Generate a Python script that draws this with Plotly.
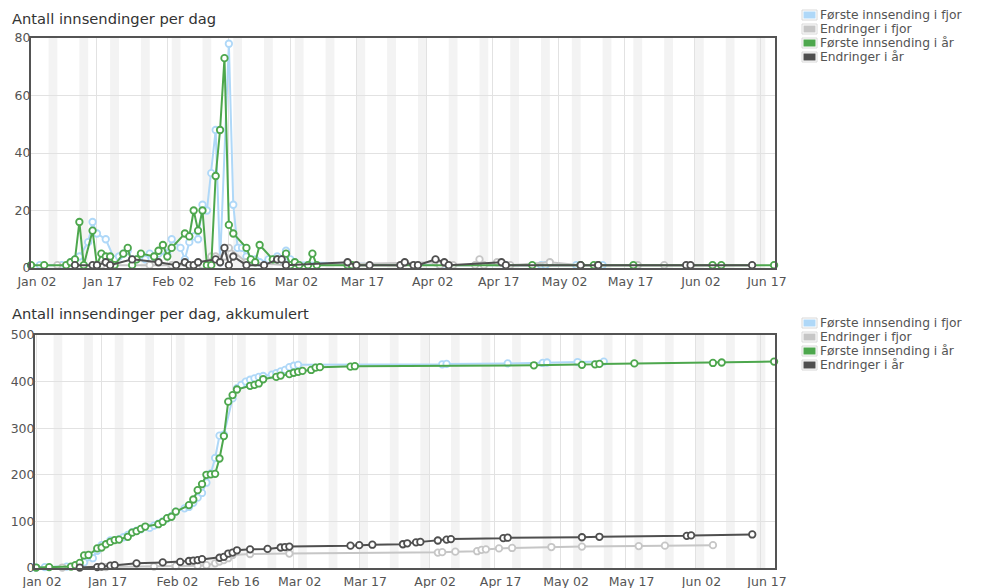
import plotly.graph_objects as go
from datetime import date, timedelta

YEAR = "2018"

# ---- Første innsending i fjor (light blue) ----
blue_dates = ["01-02", "01-04", "01-09", "01-11", "01-12", "01-13", "01-15", "01-16", "01-17", "01-19",
              "01-21", "01-22", "01-23", "01-24", "01-25", "01-26", "01-28", "01-29", "01-30", "01-31",
              "02-01", "02-02", "02-03", "02-05", "02-06", "02-07", "02-08", "02-09", "02-10", "02-11",
              "02-12", "02-13", "02-14", "02-16", "02-17", "02-18", "02-19", "02-20", "02-21", "02-22",
              "02-23", "02-25", "02-26", "02-27", "02-28", "03-01", "03-02", "03-03", "04-05", "04-06",
              "04-20", "04-28", "04-29", "05-06", "05-12"]
blue_daily = [1, 1, 1, 2, 3, 4, 9, 16, 12, 10,
              3, 4, 5, 6, 3, 3, 3, 5, 4, 5,
              6, 5, 10, 7, 3, 9, 11, 10, 22, 20,
              33, 48, 2, 78, 22, 7, 7, 4, 3, 3,
              2, 3, 3, 4, 3, 6, 3, 2, 1, 1,
              1, 1, 1, 1, 1]
blue_cum = [1, 2, 3, 5, 8, 12, 21, 37, 49, 59,
            62, 66, 71, 77, 80, 83, 86, 91, 95, 100,
            106, 111, 121, 128, 131, 140, 151, 161, 183, 203,
            236, 284, 286, 364, 386, 393, 400, 404, 407, 410,
            412, 415, 418, 422, 425, 431, 434, 436, 437, 438,
            439, 440, 441, 442, 443]

# ---- Endringer i fjor (light gray) ----
gray_dates = ["01-08", "01-18", "01-29", "02-03", "02-08", "02-10", "02-12", "02-13", "02-14", "02-15",
              "02-16", "02-20", "03-01", "04-04", "04-05", "04-08", "04-13", "04-14", "04-15", "04-18",
              "04-21", "04-30", "05-07", "05-20", "05-26", "06-06"]
gray_daily = [1, 1, 1, 1, 1, 1, 4, 4, 3, 4,
              7, 2, 1, 2, 1, 1, 1, 3, 1, 2,
              1, 2, 1, 1, 1, 1]
gray_cum = [1, 2, 3, 4, 5, 6, 10, 14, 17, 21,
            28, 30, 31, 33, 34, 35, 36, 39, 40, 42,
            43, 45, 46, 47, 48, 49]

# ---- Første innsending i år (green) ----
green_dates = ["01-02", "01-05", "01-10", "01-11", "01-12", "01-13", "01-14", "01-16", "01-17", "01-18",
               "01-19", "01-20", "01-21", "01-23", "01-24", "01-25", "01-26", "01-27", "01-30", "01-31",
               "02-01", "02-02", "02-03", "02-06", "02-07", "02-08", "02-09", "02-10", "02-11", "02-12",
               "02-13", "02-14", "02-15", "02-16", "02-17", "02-20", "02-21", "02-22", "02-23", "02-26",
               "02-27", "03-01", "03-02", "03-03", "03-04", "03-06", "03-07", "03-08", "03-15", "03-16",
               "04-26", "05-07", "05-10", "05-11", "05-19", "06-06", "06-08", "06-20"]
green_daily = [1, 1, 1, 2, 3, 16, 1, 13, 1, 5,
               4, 4, 1, 5, 7, 1, 3, 5, 4, 6,
               8, 4, 7, 12, 11, 20, 13, 20, 1, 1,
               32, 48, 73, 15, 12, 7, 3, 2, 8, 3,
               3, 5, 1, 2, 1, 1, 5, 1, 1, 1,
               1, 1, 1, 1, 1, 1, 1, 1]
green_cum = [1, 2, 3, 6, 11, 27, 28, 42, 44, 51,
             56, 60, 61, 67, 76, 79, 84, 89, 94, 99,
             107, 110, 121, 135, 147, 167, 180, 200, 201, 202,
             235, 283, 357, 371, 383, 391, 393, 396, 405, 410,
             413, 416, 419, 421, 423, 425, 430, 431, 432, 433,
             435, 436, 437, 438, 439, 440, 441, 443]

# ---- Endringer i år (dark gray) ----
dark_dates = ["01-12", "01-16", "01-17", "01-19", "01-20", "01-25", "01-31", "02-04", "02-06", "02-07",
              "02-08", "02-09", "02-13", "02-14", "02-15", "02-16", "02-17", "02-20", "02-24", "02-27",
              "02-28", "03-01", "03-15", "03-17", "03-20", "03-27", "03-28", "03-30", "03-31", "04-04",
              "04-06", "04-07", "04-19", "04-20", "05-07", "05-11", "05-31", "06-01", "06-15"]
dark_daily = [1, 1, 1, 2, 1, 3, 2, 1, 2, 1,
              1, 2, 3, 2, 7, 1, 4, 1, 1, 3,
              3, 1, 2, 1, 1, 1, 2, 1, 1, 3,
              2, 1, 2, 1, 1, 1, 1, 1, 1]
dark_cum = [1, 2, 3, 5, 6, 10, 12, 13, 15, 16,
            17, 19, 22, 24, 31, 33, 38, 40, 41, 44,
            45, 46, 48, 49, 50, 51, 53, 55, 56, 59,
            61, 62, 64, 65, 66, 67, 69, 70, 72]

tick_dates = ["01-02", "01-17", "02-02", "02-16", "03-02", "03-17", "04-02", "04-17", "05-02", "05-17",
              "06-02", "06-17"]
tick_labels = ["Jan 02", "Jan 17", "Feb 02", "Feb 16", "Mar 02", "Mar 17", "Apr 02", "Apr 17", "May 02",
               "May 17", "Jun 02", "Jun 17"]
y_ticks_top = [0, 20, 40, 60, 80]
y_ticks_bottom = [0, 100, 200, 300, 400, 500]

series_names = ["Første innsending i fjor", "Endringer i fjor", "Første innsending i år", "Endringer i år"]
series_colors = ["#afd8f8", "#c6c6c6", "#4da74d", "#4f4f4f"]

titles = ["Antall innsendinger per dag", "Antall innsendinger per dag, akkumulert"]


def full(ds):
    return [f"{YEAR}-{d}" for d in ds]


W, H = 981, 588


def px(x):
    return x / W


def py(y):
    return 1 - y / H


FONT = "DejaVu Sans"
TXT = "#545454"

fig = go.Figure()

data = [
    (blue_dates, blue_daily, blue_cum),
    (gray_dates, gray_daily, gray_cum),
    (green_dates, green_daily, green_cum),
    (dark_dates, dark_daily, dark_cum),
]
for (ds, dv, cv), name, col in zip(data, series_names, series_colors):
    for xa, ya, vals in (("x", "y", dv), ("x2", "y2", cv)):
        fig.add_trace(go.Scatter(
            x=full(ds), y=vals, mode="lines+markers", name=name,
            xaxis=xa, yaxis=ya, showlegend=False, cliponaxis=False,
            line=dict(color=col, width=2),
            marker=dict(size=6.5, color="white", line=dict(color=col, width=1.8)),
        ))

common_x = dict(
    type="date", tickvals=full(tick_dates), ticktext=tick_labels,
    showgrid=True, gridcolor="#e2e2e2", gridwidth=1,
    showline=True, mirror=True, linecolor="#545454", linewidth=2,
    zeroline=False, ticks="", ticklabelshift=6, automargin=False,
    tickfont=dict(family=FONT, size=12.5, color=TXT),
)
common_y = dict(
    showgrid=True, gridcolor="#e2e2e2", gridwidth=1,
    showline=True, mirror=True, linecolor="#545454", linewidth=2,
    zeroline=False, ticks="", automargin=False, ticklabelstandoff=-4,
    tickfont=dict(family=FONT, size=12.5, color=TXT),
)

fig.update_layout(
    template="none",
    width=W, height=H, autosize=False,
    margin=dict(l=0, r=0, t=0, b=0, pad=0),
    paper_bgcolor="white", plot_bgcolor="white",
    showlegend=False,
    xaxis=dict(domain=[px(31), px(775)], range=["2018-01-02", "2018-06-20 05:00"], anchor="y",
               ticklabelstandoff=1, **common_x),
    yaxis=dict(domain=[py(268), py(38)], range=[0, 80], tickvals=y_ticks_top, anchor="x", **common_y),
    xaxis2=dict(domain=[px(35), px(775)], range=["2018-01-01 18:00", "2018-06-20 05:00"], anchor="y2",
                ticklabelstandoff=1, **common_x),
    yaxis2=dict(domain=[py(568), py(335)], range=[0, 500], tickvals=y_ticks_bottom, anchor="x2", **common_y),
)

shapes = []
# weekend bands
d = date(2018, 1, 6)
while d <= date(2018, 6, 20):
    for xr, yr in (("x", "y domain"), ("x2", "y2 domain")):
        shapes.append(dict(type="rect", xref=xr, yref=yr, x0=d.isoformat(),
                           x1=(d + timedelta(days=2)).isoformat(), y0=0, y1=1,
                           fillcolor="#f3f3f3", line=dict(width=0), layer="below"))
    d += timedelta(days=7)

annotations = []
# titles
for t, ty in zip(titles, (19, 313)):
    annotations.append(dict(text=t, xref="paper", yref="paper", x=px(11), y=py(ty),
                            xanchor="left", yanchor="middle", showarrow=False, borderpad=0,
                            font=dict(family=FONT, size=14.7, color="#333333")))

# legends (flot-style colour boxes)
for top0 in (15, 323):
    for i, (name, col) in enumerate(zip(series_names, series_colors)):
        yc = top0 + i * 14
        shapes.append(dict(type="rect", xref="paper", yref="paper",
                           x0=px(802), x1=px(817), y0=py(yc + 5), y1=py(yc - 5),
                           fillcolor="white", line=dict(color="#d8d8d8", width=1)))
        shapes.append(dict(type="rect", xref="paper", yref="paper",
                           x0=px(803.5), x1=px(815.5), y0=py(yc + 3.5), y1=py(yc - 3.5),
                           fillcolor=col, line=dict(width=0)))
        annotations.append(dict(text=name, xref="paper", yref="paper", x=px(819), y=py(yc),
                                xanchor="left", yanchor="middle", showarrow=False, borderpad=0,
                                font=dict(family=FONT, size=12.3, color=TXT)))

fig.update_layout(shapes=shapes, annotations=annotations)

fig.write_html("out.html", config={"displayModeBar": False},
               post_script="document.body.style.margin='0';document.body.style.overflow='hidden';")
